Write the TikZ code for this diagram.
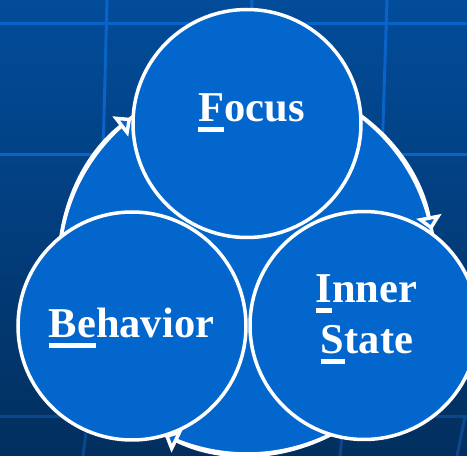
\documentclass[tikz,border=0pt]{standalone}
\usepackage{fontspec}
\setmainfont{Liberation Serif}
\usetikzlibrary{arrows.meta}
\definecolor{circblue}{HTML}{0366CC}
\definecolor{bgtop}{HTML}{024C9A}
\definecolor{bgbot}{HTML}{022F5E}
\definecolor{gridhi}{HTML}{0A63C6}
\definecolor{gridlo}{HTML}{0A478C}
\newcommand\ulx[1]{\setbox0\hbox{#1}\rlap{\rule[-10pt]{\wd0}{5pt}}\box0}
\begin{document}
\begin{tikzpicture}[x=1pt,y=1pt,
  circ/.style={circle, draw=white, line width=3.5pt, fill=circblue, minimum size=228pt, inner sep=0pt, outer sep=0pt},
  bigcirc/.style={circle, draw=white, line width=3.5pt, fill=circblue, minimum size=376pt, inner sep=0pt, outer sep=0pt},
  lbl/.style={text=white, font=\fontsize{42.5}{50}\selectfont\bfseries, anchor=base, inner sep=0pt},
  cyc/.style={draw=white, line width=3.5pt, -{Triangle[length=14pt,width=25pt,fill=circblue]}},
  gridhiline/.style={draw=gridhi, line width=3pt},
  gridloline/.style={draw=gridlo, line width=3pt}]
\shade[top color=bgtop, bottom color=bgbot] (0,0) rectangle (467,456);
\useasboundingbox (0,0) rectangle (467,456);
% background grid
\draw[gridhiline] (0,432) -- (467,432);
\draw[gridhiline] (0,301) -- (467,301);
\draw[gridhiline] (107,456) -- (103,301);
\draw[gridhiline] (252,456) -- (250,301);
\draw[gridhiline] (387,456) -- (382,301);
\draw[gridloline] (0,39) -- (467,39);
\draw[gridloline] (88,39) -- (83,0);
\draw[gridloline] (344,39) -- (340,0);
\draw[gridloline] (465,39) -- (457,0);
% cycle
\node[bigcirc] (cycle) at (247,190) {};
\draw[cyc] (cycle.190) arc[start angle=190, end angle=128, radius=188];
\draw[cyc] (cycle.80) arc[start angle=80, end angle=11, radius=188];
\draw[cyc] (cycle.320) arc[start angle=320, end angle=244, radius=188];
% circles
\node[circ] (focus) at (247,332.5) {};
\node[circ] (behav) at (132,130) {};
\node[circ] (inner) at (364,130.5) {};
% labels
\node[lbl] (tfocus) at (251.5,334) {\ulx{F}ocus};
\node[lbl] (tbehav) at (131.5,118) {\ulx{Be}havior};
\node[lbl] (tinner) at (366.5,153) {\ulx{I}nner};
\node[lbl] (tstate) at (367,102) {\ulx{S}tate};
\end{tikzpicture}
\end{document}
